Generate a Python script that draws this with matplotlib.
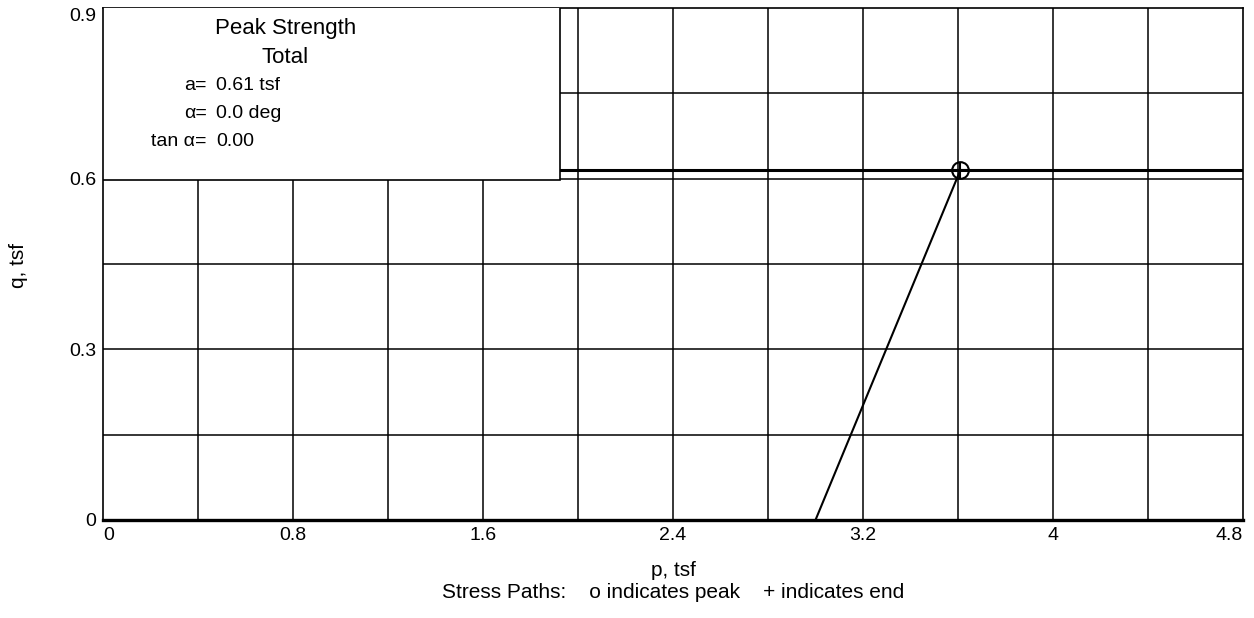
import matplotlib.pyplot as plt
from matplotlib.patches import Rectangle

plt.rcParams['font.family'] = ['Liberation Sans', 'DejaVu Sans']

# stress path (p, q) in tsf
path_p = [3.0, 3.61]
path_q = [0.0, 0.615]
peak_p = 3.61
peak_q = 0.615

# failure envelope
env_a = 0.615
x_ticks = [0, 0.8, 1.6, 2.4, 3.2, 4, 4.8]
x_tick_labels = ['0', '0.8', '1.6', '2.4', '3.2', '4', '4.8']
y_ticks = [0, 0.3, 0.6, 0.9]
y_tick_labels = ['0', '0.3', '0.6', '0.9']
x_grid = [0.4 * i for i in range(1, 12)]
y_grid = [0.15 * i for i in range(1, 6)]

box_labels = ['a=', '\u03b1=', 'tan \u03b1=']
box_values = ['0.61 tsf', '0.0 deg', '0.00']

fig = plt.figure(figsize=(12.54, 6.18), dpi=100)
ax = fig.add_axes([103 / 1254, 1 - 520 / 618, 1140 / 1254, 512 / 618])

for gx in x_grid:
    ax.axvline(gx, color='black', lw=1.1, zorder=1)
for gy in y_grid:
    ax.axhline(gy, color='black', lw=1.1, zorder=1)

ax.axhline(env_a, color='black', lw=2.2, zorder=2)
ax.plot(path_p, path_q, color='black', lw=1.5, zorder=3)
ax.plot([peak_p], [peak_q], marker='o', ms=12, mfc='none', mec='black', mew=1.5, zorder=4)
ax.plot([peak_p], [peak_q], marker='+', ms=11, color='black', mew=1.5, zorder=4)

ax.set_xlim(0, 4.8)
ax.set_ylim(0, 0.9)
ax.set_xticks(x_ticks)
ax.set_xticklabels(x_tick_labels)
ax.set_yticks(y_ticks)
ax.set_yticklabels(y_tick_labels)
ax.tick_params(length=0, labelsize=14, pad=5)
xlabels = ax.get_xticklabels()
xlabels[0].set_ha('left')
xlabels[-1].set_ha('right')
ax.get_yticklabels()[-1].set_va('top')
for s in ax.spines.values():
    s.set_linewidth(1.2)
ax.spines['bottom'].set_linewidth(2.4)

# parameter box
ax.add_patch(Rectangle((0, 0.664), 0.401, 0.34, transform=ax.transAxes,
                       facecolor='white', edgecolor='black', lw=1.2, zorder=5))
ax.text(0.160, 0.960, 'Peak Strength', transform=ax.transAxes, ha='center', va='center',
        fontsize=16, zorder=6)
ax.text(0.160, 0.903, 'Total', transform=ax.transAxes, ha='center', va='center',
        fontsize=16, zorder=6)
for i, (lab, val) in enumerate(zip(box_labels, box_values)):
    yy = 0.848 - i * 0.054
    ax.text(0.091, yy, lab, transform=ax.transAxes, ha='right', va='center', fontsize=14, zorder=6)
    ax.text(0.099, yy, val, transform=ax.transAxes, ha='left', va='center', fontsize=14, zorder=6)

fig.text(18 / 1254, 1 - 265 / 618, 'q, tsf', rotation=90, ha='center', va='center', fontsize=15)
fig.text(673 / 1254, 1 - 571 / 618, 'p, tsf', ha='center', va='center', fontsize=15)
fig.text(673 / 1254, 1 - 592 / 618, 'Stress Paths:    o indicates peak    + indicates end',
         ha='center', va='center', fontsize=15)

fig.savefig('out.png', dpi=100)
